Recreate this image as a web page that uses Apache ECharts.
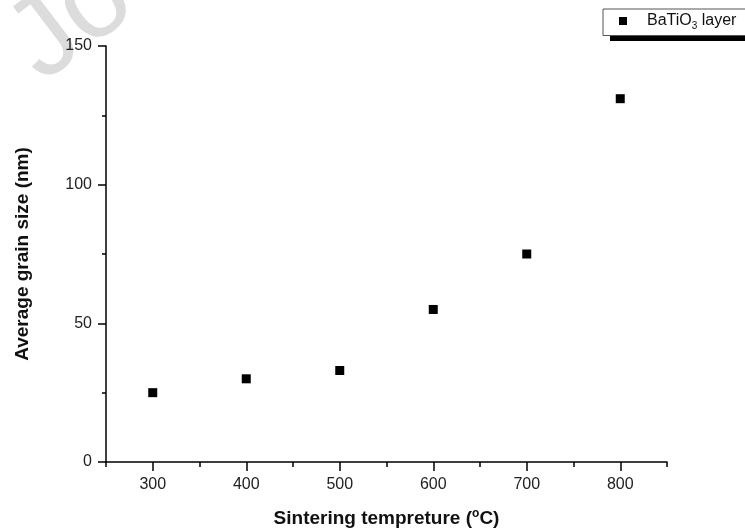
<!DOCTYPE html>
<html>
<head>
<meta charset="utf-8">
<script src="https://cdn.jsdelivr.net/npm/echarts@6/dist/echarts.min.js"></script>
<style>
  html, body { margin: 0; padding: 0; background: #fff; }
  #main { width: 745px; height: 529px; }
</style>
</head>
<body>
<div id="main"></div>
<script>
// data
var temps = [300, 400, 500, 600, 700, 800];
var grainSize = [25, 30, 33, 55, 75, 131];
var majorTicksX = [300, 400, 500, 600, 700, 800];
var minorTicksX = [250, 350, 450, 550, 650, 750, 850];
var seriesName = 'BaTiO3 layer';

var font = 'Liberation Sans';
var chart = echarts.init(document.getElementById('main'));

var points = [];
for (var i = 0; i < temps.length; i++) {
  points.push([temps[i], grainSize[i]]);
}

var option = {
  backgroundColor: '#fff',
  animation: false,
  textStyle: { fontFamily: font },
  graphic: [{
    // faint watermark in the top-left corner
    type: 'text',
    x: 58,
    y: 104,
    rotation: 0.65,
    z: -10,
    style: {
      text: 'Journal Pre-proof',
      font: '115px "Liberation Sans"',
      fill: '#dcdcdc',
      verticalAlign: 'bottom'
    }
  }, {
    // legend box drop shadow
    type: 'rect',
    z: 1,
    shape: { x: 610, y: 35, width: 140, height: 6 },
    style: { fill: '#000' }
  }],
  legend: {
    left: 603,
    top: 9,
    orient: 'vertical',
    icon: 'rect',
    itemWidth: 8,
    itemHeight: 8,
    padding: [4, 40, 4, 16],
    itemGap: 0,
    z: 5,
    backgroundColor: '#fff',
    borderColor: '#555',
    borderWidth: 1,
    data: [seriesName],
    formatter: function () {
      return '{g|}{a|BaTiO}{b|3}{a| layer}';
    },
    textStyle: {
      rich: {
        g: { width: 15 },
        a: { fontSize: 16, color: '#111', fontFamily: font },
        b: { fontSize: 10, color: '#111', fontFamily: font, padding: [11, 0, 0, 0] }
      }
    }
  },
  grid: { left: 106, right: 78, top: 46, bottom: 67, outerBoundsMode: 'none' },
  xAxis: [{
    type: 'value',
    min: 250,
    max: 850,
    name: 'Sintering tempreture ({s|o}C)',
    nameLocation: 'middle',
    nameGap: 46,
    nameTextStyle: {
      fontSize: 19,
      fontWeight: 'bold',
      color: '#111',
      rich: {
        s: { fontSize: 12, fontWeight: 'bold', color: '#111', padding: [0, 0, 10, 0] }
      }
    },
    axisLine: { show: true, onZero: false, lineStyle: { color: '#000', width: 1.5 } },
    axisTick: { show: true, length: 9, customValues: majorTicksX, lineStyle: { color: '#000', width: 1.5 } },
    axisLabel: { customValues: majorTicksX, margin: 15, fontSize: 16, color: '#222' },
    splitLine: { show: false }
  }, {
    // minor ticks on the x axis
    type: 'value',
    min: 250,
    max: 850,
    position: 'bottom',
    axisLine: { show: false },
    axisTick: { show: true, length: 5, customValues: minorTicksX, lineStyle: { color: '#000', width: 1.5 } },
    axisLabel: { show: false },
    splitLine: { show: false }
  }],
  yAxis: {
    type: 'value',
    min: 0,
    max: 150,
    interval: 50,
    name: 'Average grain size (nm)',
    nameLocation: 'middle',
    nameGap: 74,
    nameTextStyle: { fontSize: 19, fontWeight: 'bold', color: '#111' },
    axisLine: { show: true, lineStyle: { color: '#000', width: 1.5 } },
    axisTick: { show: true, length: 8, lineStyle: { color: '#000', width: 1.5 } },
    minorTick: { show: true, splitNumber: 2, length: 4, lineStyle: { color: '#000', width: 1.5 } },
    axisLabel: { margin: 14, fontSize: 16, color: '#222' },
    splitLine: { show: false }
  },
  series: [{
    name: seriesName,
    type: 'scatter',
    symbol: 'rect',
    symbolSize: 9,
    itemStyle: { color: '#000', opacity: 1 },
    data: points
  }]
};

chart.setOption(option);
</script>
</body>
</html>
